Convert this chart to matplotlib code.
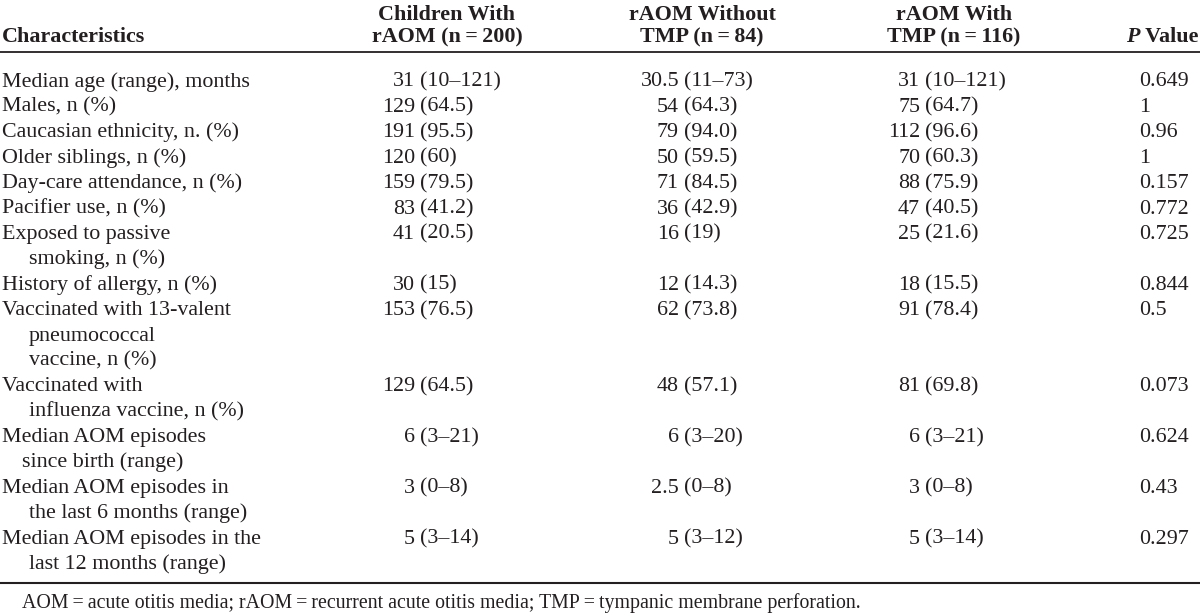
import matplotlib
matplotlib.use("Agg")
import matplotlib.pyplot as plt

# table content
labels = [
    ["Median age (range), months"],
    ["Males, n (%)"],
    ["Caucasian ethnicity, n. (%)"],
    ["Older siblings, n (%)"],
    ["Day-care attendance, n (%)"],
    ["Pacifier use, n (%)"],
    ["Exposed to passive", "smoking, n (%)"],
    ["History of allergy, n (%)"],
    ["Vaccinated with 13-valent", "pneumococcal", "vaccine, n (%)"],
    ["Vaccinated with", "influenza vaccine, n (%)"],
    ["Median AOM episodes", "since birth (range)"],
    ["Median AOM episodes in", "the last 6 months (range)"],
    ["Median AOM episodes in the", "last 12 months (range)"],
]
children = ["31 (10–121)", "129 (64.5)", "191 (95.5)", "120 (60)", "159 (79.5)",
            "83 (41.2)", "41 (20.5)", "30 (15)", "153 (76.5)", "129 (64.5)",
            "6 (3–21)", "3 (0–8)", "5 (3–14)"]
without_tmp = ["30.5 (11–73)", "54 (64.3)", "79 (94.0)", "50 (59.5)", "71 (84.5)",
               "36 (42.9)", "16 (19)", "12 (14.3)", "62 (73.8)", "48 (57.1)",
               "6 (3–20)", "2.5 (0–8)", "5 (3–12)"]
with_tmp = ["31 (10–121)", "75 (64.7)", "112 (96.6)", "70 (60.3)", "88 (75.9)",
            "47 (40.5)", "25 (21.6)", "18 (15.5)", "91 (78.4)", "81 (69.8)",
            "6 (3–21)", "3 (0–8)", "5 (3–14)"]
p_values = ["0.649", "1", "0.96", "1", "0.157", "0.772", "0.725", "0.844",
            "0.5", "0.073", "0.624", "0.43", "0.297"]
col_headers = [["Children With", "rAOM (n\u2009=\u2009200)"],
               ["rAOM Without", "TMP (n\u2009=\u200984)"],
               ["rAOM With", "TMP (n\u2009=\u2009116)"]]
footnote = ("AOM\u2009=\u2009acute otitis media; rAOM\u2009=\u2009recurrent acute otitis media; "
            "TMP\u2009=\u2009tympanic membrane perforation.")

# layout (pixels)
FONT = "Liberation Serif"
INK = "#231f20"
FS = 15.8
col_anchor = [415, 679, 920]
col_head_x = [447, 702, 954]
p_x = 1139
first_base = 86.5
line_h = 25.4

fig = plt.figure(figsize=(12, 6.16), dpi=100)
ax = fig.add_axes([0, 0, 1, 1])
ax.set_xlim(0, 1200)
ax.set_ylim(616, 0)
ax.axis("off")

txt = dict(family=FONT, color=INK, fontsize=FS, va="baseline")

# header
ax.text(2, 42, "Characteristics", fontweight="bold", ha="left", **txt)
for cx, (l1, l2) in zip(col_head_x, col_headers):
    ax.text(cx, 19.5, l1, fontweight="bold", ha="center", **txt)
    ax.text(cx, 42, l2, fontweight="bold", ha="center", **txt)
val = ax.text(1198, 42, " Value", fontweight="bold", ha="right", **txt)
fig.canvas.draw()
bb = val.get_window_extent().transformed(ax.transData.inverted())
ax.text(min(bb.x0, bb.x1), 42, "P", fontweight="bold", fontstyle="italic", ha="right", **txt)

ax.plot([0, 1200], [52, 52], color=INK, lw=1.3, solid_capstyle="butt")

# body
line = 0
for i, lab in enumerate(labels):
    y = first_base + line * line_h
    for k, part in enumerate(lab):
        indent = 2 if k == 0 else (22 if part.startswith("since") else 29)
        ax.text(indent, y + k * line_h, part, ha="left", **txt)
    for ax_x, col in zip(col_anchor, [children, without_tmp, with_tmp]):
        num, rest = col[i].split(" ", 1)
        ax.text(ax_x, y, num, ha="right", **txt)
        ax.text(ax_x + 5, y, rest, ha="left", **txt)
    ax.text(p_x, y, p_values[i], ha="left", **txt)
    line += len(lab)

ax.plot([0, 1200], [583, 583], color=INK, lw=1.5, solid_capstyle="butt")
ax.text(22, 608, footnote, ha="left", family=FONT, color=INK, fontsize=14.3, va="baseline")

fig.savefig("out.png", dpi=100)
